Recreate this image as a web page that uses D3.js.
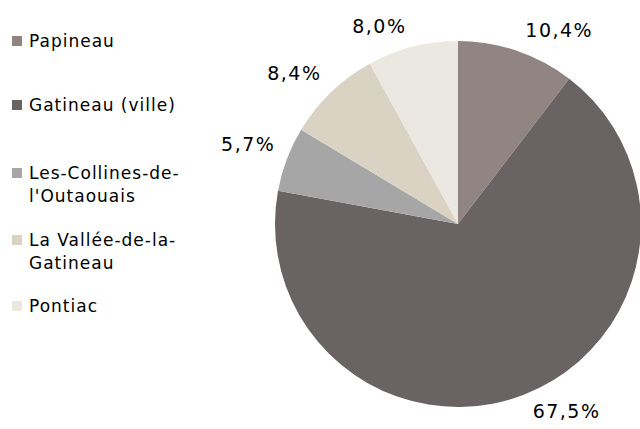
<!DOCTYPE html>
<html>
<head>
  <script src="https://d3js.org/d3.v7.min.js"></script>
  <style>
    body { margin: 0; background: #fff; }
    text { font-family: "DejaVu Sans", Verdana, sans-serif; fill: #000; }
  </style>
</head>
<body>
<div id="chart"></div>
<script>
// data
const regions = ["Papineau", "Gatineau (ville)", "Les-Collines-de-l'Outaouais", "La Vallée-de-la-Gatineau", "Pontiac"];
const legendLines = [["Papineau"], ["Gatineau (ville)"], ["Les-Collines-de-", "l'Outaouais"], ["La Vallée-de-la-", "Gatineau"], ["Pontiac"]];
const shares = [10.4, 67.5, 5.7, 8.4, 8.0];
const colors = ["#908583", "#696463", "#a6a6a6", "#dad3c4", "#ebe7e1"];

const width = 640, height = 429;
const cx = 458, cy = 224, radius = 183;

const svg = d3.select("#chart").append("svg")
    .attr("width", width)
    .attr("height", height);

const color = d3.scaleOrdinal().domain(regions).range(colors);

const pie = d3.pie().sort(null).value(function(d) { return d.value; });
const data = regions.map(function(r, i) { return {name: r, value: shares[i]}; });
const arcs = pie(data);

const arc = d3.arc().innerRadius(0).outerRadius(radius);
const labelArc = d3.arc().innerRadius(radius + 8).outerRadius(radius + 8);

const g = svg.append("g").attr("transform", "translate(" + cx + "," + cy + ")");

g.selectAll(".slice")
    .data(arcs)
  .enter().append("path")
    .attr("class", "slice")
    .attr("d", arc)
    .attr("fill", function(d) { return color(d.data.name); });

// labels outside the slice end, anchored toward the pie
const fmt = function(v) { return v.toFixed(1).replace(".", ",") + "%"; };
g.selectAll(".lbl")
    .data(arcs)
  .enter().append("text")
    .attr("class", "lbl")
    .attr("font-size", 19)
    .attr("letter-spacing", 1.5)
    .each(function(d) {
      const mid = (d.startAngle + d.endAngle) / 2;
      const c = labelArc.centroid(d);
      const s = Math.sin(mid), co = Math.cos(mid);
      d3.select(this)
        .attr("x", c[0] + (s >= 0 ? 6 : -4))
        .attr("y", c[1] + (co >= 0 ? -6 : 16))
        .attr("text-anchor", s >= 0 ? "start" : "end")
        .text(fmt(d.data.value));
    });

// legend
const legendY = [41, 105, 173, 240, 306];
const leg = svg.selectAll(".leg")
    .data(regions)
  .enter().append("g")
    .attr("class", "leg")
    .attr("transform", function(d, i) { return "translate(12," + legendY[i] + ")"; });

leg.append("rect")
    .attr("x", 0).attr("y", -5)
    .attr("width", 10).attr("height", 10)
    .attr("fill", function(d) { return color(d); });

leg.append("text")
    .attr("x", 17)
    .attr("y", 6)
    .attr("font-size", 17)
    .attr("letter-spacing", 1)
    .selectAll("tspan")
    .data(function(d, i) { return legendLines[i]; })
  .enter().append("tspan")
    .attr("x", 17)
    .attr("dy", function(d, i) { return i === 0 ? 0 : 23; })
    .text(function(d) { return d; });
</script>
</body>
</html>
